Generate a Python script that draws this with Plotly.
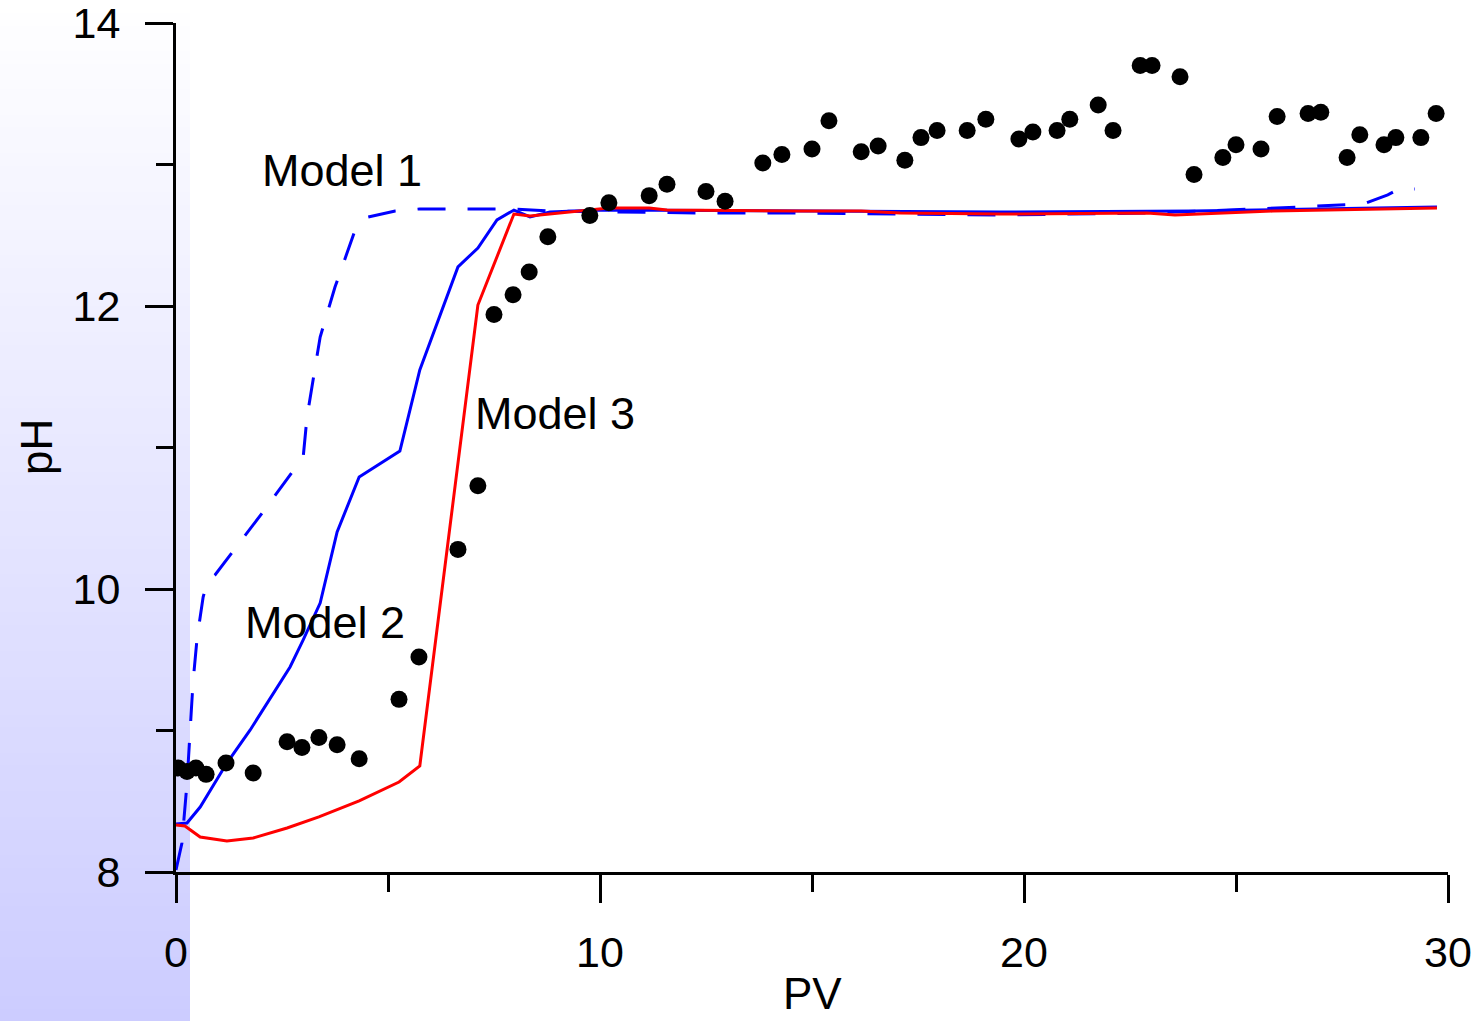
import plotly.graph_objects as go

# ---------------- data ----------------
obs_pv = [0.05, 0.26, 0.47, 0.71, 1.18, 1.82, 2.62, 2.97, 3.37, 3.80, 4.32, 5.26, 5.73, 6.65, 7.12,
          7.50, 7.95, 8.33, 8.77, 9.76, 10.21, 11.16, 11.58, 12.50, 12.95, 13.84, 14.29, 15.00, 15.40,
          16.16, 16.56, 17.19, 17.57, 17.95, 18.66, 19.10, 19.88, 20.21, 20.78, 21.08, 21.75, 22.10,
          22.74, 23.02, 23.68, 24.01, 24.69, 25.00, 25.59, 25.97, 26.70, 27.00, 27.62, 27.92, 28.49,
          28.77, 29.36, 29.72]
obs_ph = [8.735, 8.71, 8.735, 8.69, 8.77, 8.70, 8.92, 8.88, 8.95, 8.90, 8.80, 9.22, 9.52, 10.28, 10.73,
          11.94, 12.08, 12.24, 12.49, 12.64, 12.73, 12.78, 12.86, 12.81, 12.74, 13.01, 13.07, 13.11, 13.31,
          13.09, 13.13, 13.03, 13.19, 13.24, 13.24, 13.32, 13.18, 13.23, 13.24, 13.32, 13.42, 13.24,
          13.70, 13.70, 13.62, 12.93, 13.05, 13.14, 13.11, 13.34, 13.36, 13.37, 13.05, 13.21, 13.14,
          13.19, 13.19, 13.36]

m1_pv = [0.0, 0.14, 0.26, 0.38, 0.40, 0.50, 0.64, 0.73, 0.92, 2.05, 3.00, 3.09, 3.40, 3.75, 4.20,
         4.53, 5.17, 5.75, 7.97, 8.82, 12.36, 14.72, 19.43, 22.90, 25.50, 28.00, 28.58, 28.80, 29.22]
m1_ph = [8.014, 8.205, 8.629, 9.216, 9.336, 9.661, 9.943, 10.042, 10.099, 10.544, 10.933, 11.216,
         11.781, 12.134, 12.516, 12.629, 12.671, 12.686, 12.686, 12.671, 12.657, 12.657, 12.643,
         12.657, 12.686, 12.721, 12.785, 12.820, 12.827]

m2_pv = [0.0, 0.26, 0.57, 1.20, 1.75, 2.69, 3.00, 3.40, 3.80, 4.32, 5.28, 5.75, 6.65, 7.12, 7.57,
         7.97, 8.35, 8.82, 10.0, 14.72, 19.43, 24.0, 29.74]
m2_ph = [8.339, 8.346, 8.459, 8.770, 9.004, 9.449, 9.640, 9.901, 10.403, 10.792, 10.975, 11.548,
         12.276, 12.410, 12.608, 12.678, 12.629, 12.664, 12.678, 12.671, 12.664, 12.671, 12.699]

m3_pv = [0.0, 0.21, 0.57, 1.20, 1.82, 2.62, 3.37, 4.32, 5.26, 5.75, 7.12, 7.97, 8.35, 8.77, 10.21,
         11.16, 11.58, 14.72, 16.16, 17.08, 19.43, 22.90, 23.56, 25.87, 29.74]
m3_ph = [8.332, 8.325, 8.247, 8.219, 8.240, 8.311, 8.389, 8.502, 8.636, 8.749, 12.007, 12.650,
         12.636, 12.650, 12.693, 12.693, 12.678, 12.671, 12.671, 12.657, 12.650, 12.657, 12.643,
         12.671, 12.693]

labels = ["Model 1", "Model 2", "Model 3"]
label_pv = [3.92, 3.52, 8.94]
label_ph = [12.96, 9.76, 11.24]

x_ticks = [0, 10, 20, 30]
y_ticks = [8, 10, 12, 14]

# ---------------- figure ----------------
W, H = 1483, 1021
L, R, T, B = 176, 35, 23, 149
FONT = "Liberation Sans, Arial, sans-serif"
FS_TICK = 43
FS_TEXT = 45

fig = go.Figure()
fig.add_trace(go.Scatter(x=m1_pv, y=m1_ph, mode="lines",
                         line=dict(color="#0000FF", width=3, dash="28px,22px"), name="Model 1"))
fig.add_trace(go.Scatter(x=m2_pv, y=m2_ph, mode="lines",
                         line=dict(color="#0000FF", width=3), name="Model 2"))
fig.add_trace(go.Scatter(x=m3_pv, y=m3_ph, mode="lines",
                         line=dict(color="#FF0000", width=3), name="Model 3"))
fig.add_trace(go.Scatter(x=obs_pv, y=obs_ph, mode="markers",
                         marker=dict(color="black", size=17, line=dict(width=0)), name="Observed"))

# gradient strip on the left
plot_w = W - L - R
plot_h = H - T - B
n = 80
shapes = []
for i in range(n):
    py0 = i * H / n
    py1 = (i + 1) * H / n + 1
    t = (i + 0.5) / n
    r = round(255 - (255 - 204) * t)
    g = round(255 - (255 - 204) * t)
    col = f"rgb({r},{g},255)"
    shapes.append(dict(type="rect", xref="paper", yref="paper", layer="below",
                       x0=(0 - L) / plot_w, x1=(190 - L) / plot_w,
                       y0=(H - B - py1) / plot_h, y1=(H - B - py0) / plot_h,
                       fillcolor=col, line=dict(width=0)))

annotations = []
for txt, xv, yv in zip(labels, label_pv, label_ph):
    annotations.append(dict(x=xv, y=yv, xref="x", yref="y", text=txt, showarrow=False,
                            xanchor="center", yanchor="middle",
                            font=dict(family=FONT, size=FS_TEXT, color="black")))
annotations.append(dict(x=0.5, y=(872 - 994) / plot_h, xref="paper", yref="paper", text="PV",
                        showarrow=False, xanchor="center", yanchor="middle",
                        font=dict(family=FONT, size=44, color="black")))
annotations.append(dict(x=(36 - L) / plot_w, y=(872 - 447) / plot_h, xref="paper", yref="paper",
                        text="pH", showarrow=False, textangle=-90, xanchor="center", yanchor="middle",
                        font=dict(family=FONT, size=44, color="black")))

axis_common = dict(showgrid=False, zeroline=False, showline=True, linecolor="black", linewidth=3,
                   ticks="outside", ticklen=28, tickwidth=2.5, tickcolor="black",
                   ticklabeloverflow="allow", automargin=False,
                   tickfont=dict(family=FONT, size=FS_TICK, color="black"))

fig.update_layout(
    width=W, height=H, margin=dict(l=L, r=R, t=T, b=B, autoexpand=False),
    paper_bgcolor="white", plot_bgcolor="rgba(0,0,0,0)",
    showlegend=False, shapes=shapes, annotations=annotations,
    xaxis=dict(range=[0, 30], tickvals=x_ticks, ticktext=[str(v) for v in x_ticks],
               minor=dict(ticks="outside", ticklen=17, tickwidth=2.5, tickcolor="black", dtick=5,
                          tick0=0, showgrid=False),
               ticklabelstandoff=12, **axis_common),
    yaxis=dict(range=[8, 14], tickvals=y_ticks, ticktext=[str(v) for v in y_ticks],
               minor=dict(ticks="outside", ticklen=17, tickwidth=2.5, tickcolor="black", dtick=1,
                          tick0=0, showgrid=False),
               ticklabelstandoff=16, **axis_common),
)

fig.write_html("out.html")
